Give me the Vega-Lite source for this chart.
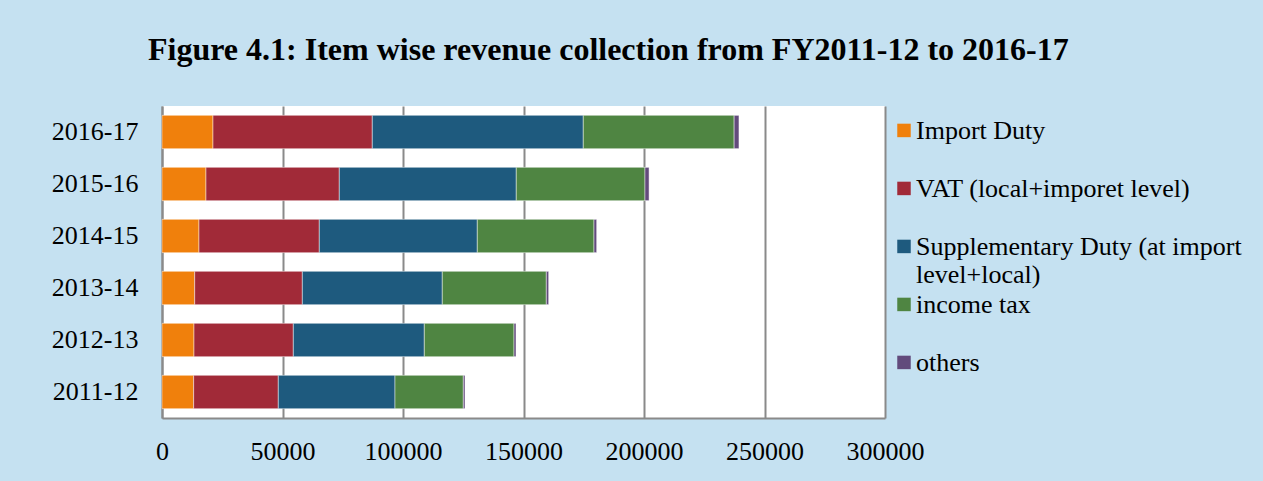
{
  "$schema": "https://vega.github.io/schema/vega-lite/v6.json",
  "width": 723,
  "height": 312,
  "autosize": {"type": "none"},
  "padding": {"left": 162, "top": 106, "right": 378, "bottom": 63},
  "background": "#C5E1F1",
  "title": {
    "text": "Figure 4.1: Item wise revenue collection from FY2011-12 to 2016-17",
    "font": "Liberation Serif",
    "fontSize": 32,
    "fontWeight": "bold",
    "color": "#000000",
    "anchor": "start",
    "frame": "group",
    "dx": -14,
    "baseline": "alphabetic",
    "offset": 14
  },
  "data": {
    "values": [
      {"year": "2016-17", "item": "Import Duty", "k": 1, "value": 21160},
      {"year": "2016-17", "item": "VAT (local+imporet level)", "k": 2, "value": 66100},
      {"year": "2016-17", "item": "Supplementary Duty (at import level+local)", "k": 3, "value": 87540},
      {"year": "2016-17", "item": "income tax", "k": 4, "value": 62600},
      {"year": "2016-17", "item": "others", "k": 5, "value": 2000},
      {"year": "2015-16", "item": "Import Duty", "k": 1, "value": 18250},
      {"year": "2015-16", "item": "VAT (local+imporet level)", "k": 2, "value": 55320},
      {"year": "2015-16", "item": "Supplementary Duty (at import level+local)", "k": 3, "value": 73430},
      {"year": "2015-16", "item": "income tax", "k": 4, "value": 53400},
      {"year": "2015-16", "item": "others", "k": 5, "value": 1700},
      {"year": "2014-15", "item": "Import Duty", "k": 1, "value": 15350},
      {"year": "2014-15", "item": "VAT (local+imporet level)", "k": 2, "value": 49920},
      {"year": "2014-15", "item": "Supplementary Duty (at import level+local)", "k": 3, "value": 65560},
      {"year": "2014-15", "item": "income tax", "k": 4, "value": 48420},
      {"year": "2014-15", "item": "others", "k": 5, "value": 1110},
      {"year": "2013-14", "item": "Import Duty", "k": 1, "value": 13570},
      {"year": "2013-14", "item": "VAT (local+imporet level)", "k": 2, "value": 44660},
      {"year": "2013-14", "item": "Supplementary Duty (at import level+local)", "k": 3, "value": 58070},
      {"year": "2013-14", "item": "income tax", "k": 4, "value": 43170},
      {"year": "2013-14", "item": "others", "k": 5, "value": 970},
      {"year": "2012-13", "item": "Import Duty", "k": 1, "value": 13280},
      {"year": "2012-13", "item": "VAT (local+imporet level)", "k": 2, "value": 41210},
      {"year": "2012-13", "item": "Supplementary Duty (at import level+local)", "k": 3, "value": 54350},
      {"year": "2012-13", "item": "income tax", "k": 4, "value": 37220},
      {"year": "2012-13", "item": "others", "k": 5, "value": 830},
      {"year": "2011-12", "item": "Import Duty", "k": 1, "value": 13140},
      {"year": "2011-12", "item": "VAT (local+imporet level)", "k": 2, "value": 35120},
      {"year": "2011-12", "item": "Supplementary Duty (at import level+local)", "k": 3, "value": 48420},
      {"year": "2011-12", "item": "income tax", "k": 4, "value": 28350},
      {"year": "2011-12", "item": "others", "k": 5, "value": 700}
    ]
  },
  "mark": {"type": "bar", "stroke": "#ffffff", "strokeOpacity": 0.45, "strokeWidth": 1},
  "encoding": {
    "y": {
      "field": "year",
      "type": "nominal",
      "sort": ["2016-17", "2015-16", "2014-15", "2013-14", "2012-13", "2011-12"],
      "scale": {"paddingInner": 0.36, "paddingOuter": 0.18},
      "axis": {
        "title": null,
        "labelFont": "Liberation Serif",
        "labelFontSize": 26,
        "labelColor": "#000000",
        "labelPadding": 24,
        "ticks": false,
        "domainColor": "#8a8a8a",
        "domainWidth": 2,
        "grid": false
      }
    },
    "x": {
      "field": "value",
      "type": "quantitative",
      "stack": "zero",
      "scale": {"domain": [0, 300000], "nice": false},
      "axis": {
        "title": null,
        "values": [0, 50000, 100000, 150000, 200000, 250000, 300000],
        "format": "d",
        "labelFont": "Liberation Serif",
        "labelFontSize": 26,
        "labelColor": "#000000",
        "labelPadding": 20,
        "ticks": false,
        "domainColor": "#8a8a8a",
        "domainWidth": 2,
        "grid": true,
        "gridColor": "#8a8a8a",
        "gridWidth": 2,
        "labelFlush": false
      }
    },
    "color": {
      "field": "item",
      "type": "nominal",
      "scale": {
        "domain": ["Import Duty", "VAT (local+imporet level)", "Supplementary Duty (at import level+local)", "income tax", "others"],
        "range": ["#F0800C", "#A12A38", "#1E5A7E", "#4F8542", "#624B7C"]
      },
      "legend": {
        "title": null,
        "orient": "none",
        "legendX": 729,
        "legendY": 20,
        "padding": 0,
        "labelFont": "Liberation Serif",
        "labelFontSize": 26,
        "labelColor": "#000000",
        "labelBaseline": "alphabetic",
        "labelLimit": 500,
        "labelOffset": -1,
        "symbolType": "M-1,-2.27H1V-0.27H-1Z",
        "symbolSize": 182,
        "symbolStrokeWidth": 0,
        "symbolOpacity": 1,
        "gridAlign": "all",
        "rowPadding": 4,
        "labelExpr": "datum.label == 'Supplementary Duty (at import level+local)' ? ['Supplementary Duty (at import', 'level+local)'] : datum.label"
      }
    },
    "order": {"field": "k", "type": "quantitative"}
  },
  "config": {
    "font": "Liberation Serif",
    "axis": {"labelFont": "Liberation Serif"},
    "legend": {"labelFont": "Liberation Serif"},
    "view": {"fill": "#ffffff", "stroke": null}
  }
}
